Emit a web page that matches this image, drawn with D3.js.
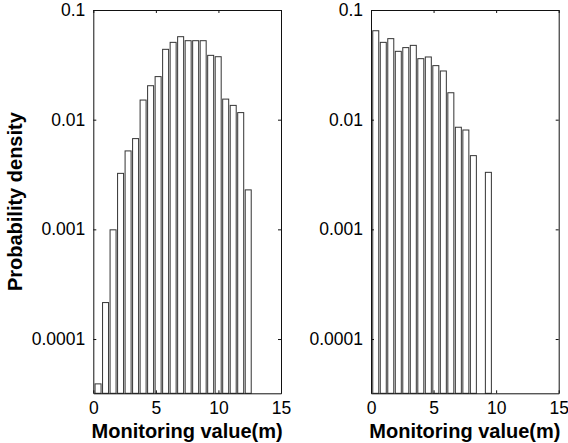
<!DOCTYPE html>
<html>
<head>
<meta charset="utf-8">
<script src="https://cdn.jsdelivr.net/npm/d3@7"></script>
<style>
  body { margin: 0; background: #fff; }
  text { font-family: "Liberation Sans", Arial, sans-serif; fill: #000; }
</style>
</head>
<body>
<div id="chart"></div>
<script>
// bin centres (m)
var binCenters = [0.38, 0.98, 1.58, 2.18, 2.78, 3.38, 3.98, 4.58, 5.18, 5.78, 6.38,
    6.98, 7.58, 8.18, 8.78, 9.38, 9.98, 10.58, 11.18, 11.78, 12.38];

// left panel densities
var leftDensity = [3.9e-5, 2.15e-4, 9.9e-4, 3.24e-3, 5.19e-3, 6.72e-3, 0.0151, 0.0204,
    0.0247, 0.0438, 0.0507, 0.0571, 0.0525, 0.0525, 0.0525, 0.0386, 0.0375, 0.0154,
    0.0135, 0.0116, 0.00229];

// right panel densities (0 = empty bin)
var rightDensity = [0.0647, 0.0507, 0.0548, 0.0420, 0.0454, 0.0476, 0.0360, 0.0373,
    0.0311, 0.0278, 0.0176, 0.00853, 0.00805, 0.00470, 0, 0.00331];

var xTicks = [0, 5, 10, 15];
var yTicks = [0.0001, 0.001, 0.01, 0.1];
var yTickLabels = ["0.0001", "0.001", "0.01", "0.1"];

var svgWidth = 568;
var svgHeight = 443;

var svg = d3.select("#chart").append("svg")
    .attr("width", svgWidth)
    .attr("height", svgHeight);

var panelWidth = 187.7;
var panelTop = 10;
var panelBottom = 393.3;
var barHalf = 0.24;

function drawPanel(left, values) {
    var g = svg.append("g").attr("transform", `translate(${left}, 0)`);

    var x = d3.scaleLinear().domain([0, 15]).range([0, panelWidth]);
    var y = d3.scaleLog().domain([3.2e-5, 0.1]).range([panelBottom, panelTop]);

    var bars = binCenters.slice(0, values.length)
        .map((c, i) => ({c: c, v: values[i]}))
        .filter(d => d.v > 0);

    g.selectAll("rect.bar").data(bars).enter().append("rect")
        .attr("class", "bar")
        .attr("x", d => x(d.c - barHalf))
        .attr("width", d => x(d.c + barHalf) - x(d.c - barHalf))
        .attr("y", d => y(d.v))
        .attr("height", d => panelBottom - y(d.v))
        .attr("fill", "#fff")
        .attr("stroke", "#333")
        .attr("stroke-width", 1);

    // axes with inward ticks, box style
    var bottomAxis = d3.axisBottom(x).tickValues(xTicks).tickSizeInner(-3).tickSizeOuter(0).tickPadding(8);
    var topAxis = d3.axisTop(x).tickValues(xTicks).tickSizeInner(-3).tickSizeOuter(0).tickFormat("");
    var leftAxis = d3.axisLeft(y).tickValues(yTicks).tickSizeInner(-3).tickSizeOuter(0).tickPadding(8)
        .tickFormat((d, i) => yTickLabels[i]);
    var rightAxis = d3.axisRight(y).tickValues(yTicks).tickSizeInner(-3).tickSizeOuter(0).tickFormat("");

    var axes = [
        g.append("g").attr("transform", `translate(0, ${panelBottom})`).call(bottomAxis),
        g.append("g").attr("transform", `translate(0, ${panelTop})`).call(topAxis),
        g.append("g").call(leftAxis),
        g.append("g").attr("transform", `translate(${panelWidth}, 0)`).call(rightAxis)
    ];
    axes.forEach(a => {
        a.selectAll("path, line").attr("stroke", "#111").attr("stroke-width", 1);
        a.selectAll("text").attr("font-size", 17.5).attr("fill", "#000")
            .style("font-family", "'Liberation Sans', Arial, sans-serif");
    });

    g.append("text")
        .attr("x", panelWidth / 2)
        .attr("y", 438)
        .attr("text-anchor", "middle")
        .attr("font-size", 20)
        .attr("font-weight", "bold")
        .text("Monitoring value(m)");
}

drawPanel(93.3, leftDensity);
drawPanel(371, rightDensity);

svg.append("text")
    .attr("transform", `translate(22, ${(panelTop + panelBottom) / 2}) rotate(-90)`)
    .attr("text-anchor", "middle")
    .attr("font-size", 20)
    .attr("font-weight", "bold")
    .text("Probability density");
</script>
</body>
</html>
